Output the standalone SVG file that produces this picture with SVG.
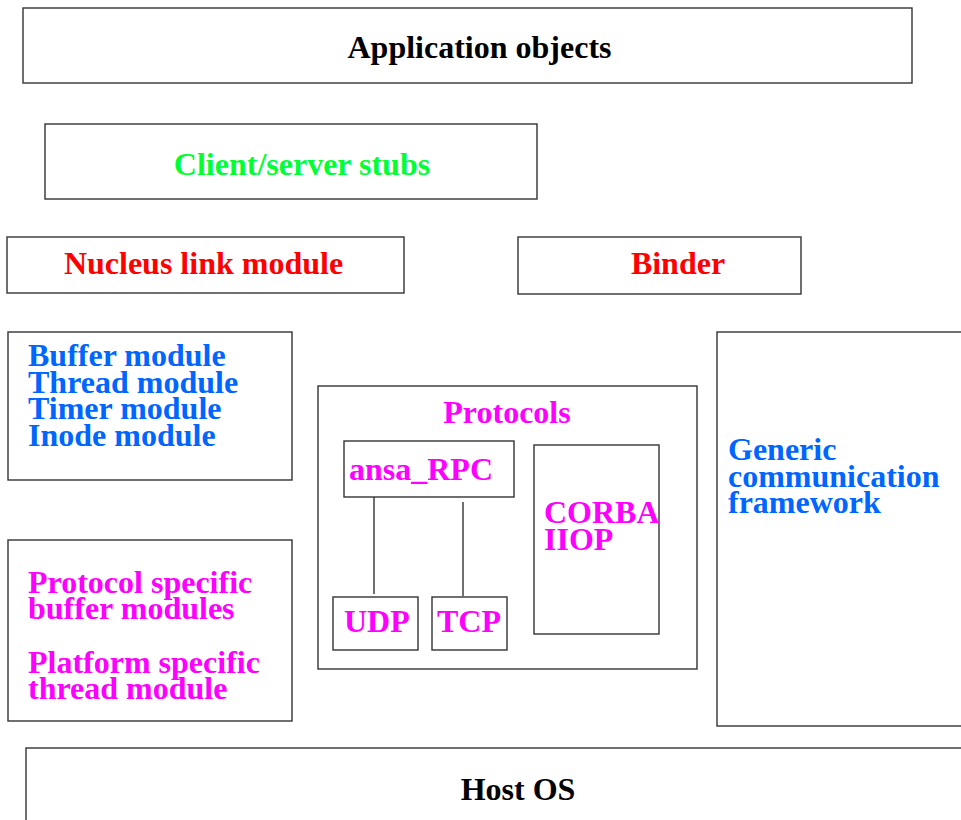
<svg xmlns="http://www.w3.org/2000/svg" width="961" height="820" viewBox="0 0 961 820">
<style>
rect{fill:#fff;stroke:#333;stroke-width:1.4}
line{stroke:#333;stroke-width:1.4}
text{font-family:"Liberation Serif","Times New Roman",serif;font-weight:bold;font-size:32px}
.c{text-anchor:middle}
.k{fill:#000}
.g{fill:#00ff33}
.r{fill:#ff0000}
.b{fill:#0066ff}
.m{fill:#ff00ff}
</style>
<rect x="0" y="0" width="961" height="820" style="stroke:none"/>
<g id="app"><rect x="23" y="8" width="889" height="75"/><text class="c k" x="479.5" y="58">Application objects</text></g>
<g id="stubs"><rect x="45" y="124" width="492" height="75"/><text class="c g" x="302" y="175">Client/server stubs</text></g>
<g id="nucleus"><rect x="7" y="237" width="397" height="56"/><text class="c r" x="203.5" y="274">Nucleus link module</text></g>
<g id="binder"><rect x="518" y="237" width="283" height="57"/><text class="c r" x="678" y="274">Binder</text></g>
<g id="modules"><rect x="8" y="332" width="284" height="148"/>
<text class="b" x="28" y="366">Buffer module</text>
<text class="b" x="28" y="393">Thread module</text>
<text class="b" x="28" y="419">Timer module</text>
<text class="b" x="28" y="446">Inode module</text></g>
<g id="specific"><rect x="8" y="540" width="284" height="181"/>
<text class="m" x="28" y="593">Protocol specific</text>
<text class="m" x="28" y="619">buffer modules</text>
<text class="m" x="28" y="673">Platform specific</text>
<text class="m" x="28" y="699">thread module</text></g>
<g id="protocols"><rect x="318" y="386" width="379" height="283"/><text class="c m" x="507" y="423">Protocols</text></g>
<g id="ansa"><rect x="344" y="441" width="170" height="56"/><text class="m" x="349" y="480">ansa_RPC</text></g>
<g id="udp"><rect x="333" y="597" width="85" height="53"/><text class="m" x="344" y="632">UDP</text></g>
<g id="tcp"><rect x="432" y="597" width="75" height="53"/><text class="m" x="437" y="632">TCP</text></g>
<g id="corba"><rect x="534" y="445" width="125" height="189"/>
<text class="m" x="544" y="523">CORBA</text>
<text class="m" x="544" y="550">IIOP</text></g>
<g id="generic"><rect x="717" y="332" width="260" height="394"/>
<text class="b" x="728" y="460">Generic</text>
<text class="b" x="728" y="487">communication</text>
<text class="b" x="728" y="513">framework</text></g>
<g id="host"><rect x="26" y="748" width="950" height="90"/><text class="c k" x="518" y="800">Host OS</text></g>
<g id="connectors">
<line x1="374" y1="497" x2="374" y2="594"/>
<line x1="463" y1="502" x2="463" y2="596"/>
</g>
</svg>
